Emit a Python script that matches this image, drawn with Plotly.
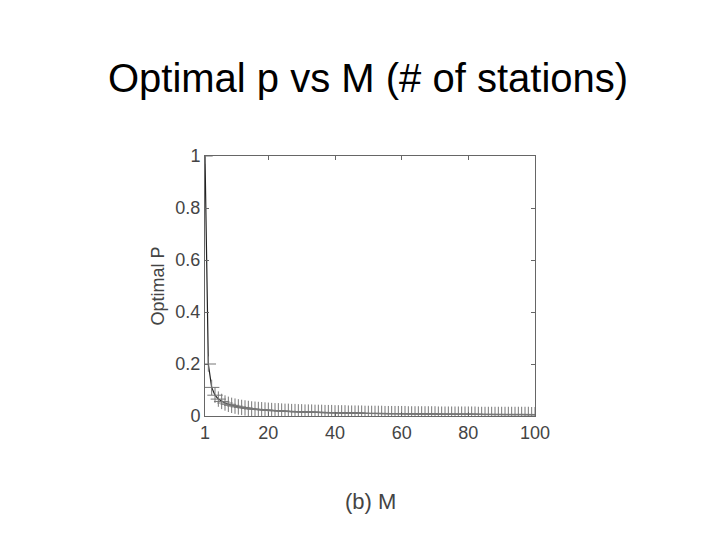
import plotly.graph_objects as go

M = list(range(1, 101))
optimal_p = [1, 0.2, 0.11, 0.08, 0.065, 0.056, 0.05, 0.045, 0.041, 0.038,
    0.035, 0.033, 0.031, 0.029, 0.027, 0.026, 0.025, 0.024, 0.023, 0.022,
    0.021, 0.020, 0.020, 0.019, 0.018, 0.018, 0.017, 0.017, 0.016, 0.016,
    0.015, 0.015, 0.015, 0.014, 0.014, 0.014, 0.013, 0.013, 0.013, 0.012,
    0.012, 0.012, 0.012, 0.011, 0.011, 0.011, 0.011, 0.011, 0.010, 0.010,
    0.010, 0.010, 0.010, 0.010, 0.009, 0.009, 0.009, 0.009, 0.009, 0.009,
    0.009, 0.008, 0.008, 0.008, 0.008, 0.008, 0.008, 0.008, 0.008, 0.008,
    0.007, 0.007, 0.007, 0.007, 0.007, 0.007, 0.007, 0.007, 0.007, 0.007,
    0.007, 0.007, 0.006, 0.006, 0.006, 0.006, 0.006, 0.006, 0.006, 0.006,
    0.006, 0.006, 0.006, 0.006, 0.006, 0.006, 0.006, 0.006, 0.005, 0.005]
x_ticks = [1, 20, 40, 60, 80, 100]
y_ticks = [0, 0.2, 0.4, 0.6, 0.8, 1]

fig = go.Figure(go.Scatter(
    x=M, y=optimal_p, mode="lines+markers",
    line=dict(color="#222", width=1.2),
    marker=dict(symbol="cross-thin", size=11, line=dict(color="#777", width=1)),
))
axis_common = dict(showgrid=False, zeroline=False, showline=True, mirror="ticks",
                   linecolor="#666", linewidth=1, ticks="inside", ticklen=4,
                   tickcolor="#666", tickfont=dict(family="Liberation Sans", size=18, color="#444"))
fig.update_xaxes(range=[1, 100], tickvals=x_ticks, **axis_common)
fig.update_yaxes(range=[0, 1], tickvals=y_ticks, ticktext=["0", "0.2", "0.4", "0.6", "0.8", "1"],
                 title=dict(text="Optimal P", font=dict(family="Liberation Sans", size=18, color="#444"), standoff=6),
                 **axis_common)
fig.update_layout(
    width=720, height=540, plot_bgcolor="white", paper_bgcolor="white", showlegend=False,
    margin=dict(l=197, r=193, t=148, b=132),
    title=dict(text="Optimal p vs M (# of stations)", x=0.5, xanchor="center", y=0.87, yanchor="middle",
               font=dict(family="Liberation Sans", size=40, color="black")),
    annotations=[dict(text="(b) M", x=0.5, xref="paper", y=-0.33, yref="paper", yanchor="middle",
                      showarrow=False, font=dict(family="Liberation Sans", size=22, color="#444"))],
)
fig.write_html("out.html")
